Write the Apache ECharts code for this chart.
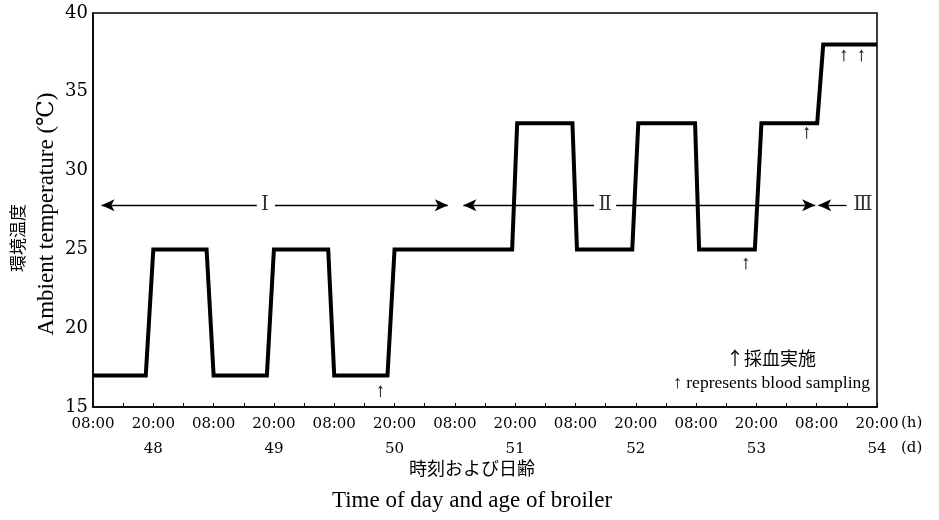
<!DOCTYPE html>
<html>
<head>
<meta charset="utf-8">
<script src="https://cdn.jsdelivr.net/npm/echarts@6/dist/echarts.min.js"></script>
<style>html,body{margin:0;padding:0;background:#fff;}#c{width:939px;height:520px;}</style>
</head>
<body>
<div id="c"></div>
<script>
// ---- data ----
// hours since 08:00 at the left edge of the axis
const timesH = [0, 10.5, 12, 22.6, 24, 34.6, 36, 46.8, 48, 58.6, 60, 83.4, 84.4, 95.4, 96.3, 107.3, 108.5, 119.8, 120.6, 131.7, 133, 144.1, 145.3, 156];
const tempsC = [17, 17, 25, 25, 17, 17, 25, 25, 17, 17, 25, 25, 33, 33, 25, 25, 33, 33, 25, 25, 33, 33, 38, 38];
const timeLabels = ['08:00','20:00','08:00','20:00','08:00','20:00','08:00','20:00','08:00','20:00','08:00','20:00','08:00','20:00'];
const dayLabels = ['', '48', '', '49', '', '50', '', '51', '', '52', '', '53', '', '54'];
const yTicks = [15, 20, 25, 30, 35, 40];
// period annotation
const periodNames = ['Ⅰ', 'Ⅱ', 'Ⅲ'];
const periodLabelT = [34.2, 101.9, 153.2];
const periodLevel = 27.8;
const arrowFrom = [32.6, 36.2, 99.7, 104.1, 149.95];
const arrowTo = [1.7, 70.6, 73.7, 143.7, 144.3];
// blood sampling marks
const sampleT = [57.2, 129.9, 142.0, 149.4, 152.9];
const sampleY = [16.0, 24.1, 32.4, 37.3, 37.3];

const serif = '"Liberation Serif", "DejaVu Serif", serif';
const dserif = '"DejaVu Serif", "Liberation Serif", serif';
const cjk = '"Noto Sans CJK JP", sans-serif';
const chart = echarts.init(document.getElementById('c'));
const arrowPath = 'path://M5,0 L9,7 L5.9,6 L5.9,24 L4.1,24 L4.1,6 L1,7 Z';

chart.setOption({
  animation: false,
  backgroundColor: '#fff',
  grid: { left: 93, right: 62, top: 13, bottom: 113, show: true, borderColor: '#000', borderWidth: 1.5, backgroundColor: 'transparent' },
  xAxis: {
    type: 'value', min: 0, max: 156, interval: 12,
    axisLine: { show: true, lineStyle: { color: '#000', width: 1.5 } },
    axisTick: { show: true, inside: true, length: 4, lineStyle: { color: '#000' } },
    minorTick: { show: true, splitNumber: 2, length: 4, lineStyle: { color: '#000' } },
    splitLine: { show: false },
    axisLabel: {
      showMinLabel: true, showMaxLabel: true, margin: 5, color: '#000',
      fontFamily: dserif, fontSize: 15,
      formatter: function (v) {
        const i = Math.round(v / 12);
        return '{t|' + timeLabels[i] + '}\n{d|' + (dayLabels[i] || ' ') + '}';
      },
      rich: {
        t: { fontFamily: dserif, fontSize: 15, lineHeight: 25, color: '#000' },
        d: { fontFamily: dserif, fontSize: 15, lineHeight: 25, color: '#000' }
      }
    }
  },
  yAxis: {
    type: 'value', min: yTicks[0], max: yTicks[yTicks.length - 1], interval: 5,
    axisLine: { show: true, lineStyle: { color: '#000', width: 1.5 } },
    axisTick: { show: false },
    splitLine: { show: false },
    axisLabel: { color: '#000', fontFamily: dserif, fontSize: 18, margin: 5 }
  },
  series: [
    {
      type: 'line', data: timesH.map((t, i) => [t, tempsC[i]]),
      symbol: 'none', lineStyle: { color: '#000', width: 4, join: 'miter' }, z: 5,
      markLine: {
        silent: true, symbol: ['none', 'arrow'], symbolSize: [9, 13],
        lineStyle: { color: '#000', width: 1.3, type: 'solid' },
        label: { show: false },
        data: arrowFrom.map((f, i) => [{ coord: [f, periodLevel] }, { coord: [arrowTo[i], periodLevel] }])
      }
    },
    {
      type: 'scatter', data: periodLabelT.map((t, i) => ({ value: [t, periodLevel], name: periodNames[i] })),
      symbolSize: 0, silent: true,
      label: { show: true, position: 'inside', formatter: p => p.name, color: '#000', fontFamily: dserif + ', ' + cjk, fontSize: 20 }
    },
    {
      type: 'scatter', data: sampleT.map((t, i) => [t, sampleY[i]]),
      symbol: arrowPath, symbolSize: [5, 12], itemStyle: { color: '#000' }, silent: true
    }
  ],
  graphic: [
    { type: 'text', x: 18, y: 238, rotation: Math.PI / 2, style: { text: '環境温度', font: '17px ' + cjk, fill: '#000', align: 'center', verticalAlign: 'middle' } },
    { type: 'text', x: 47, y: 214, rotation: Math.PI / 2, style: { text: 'Ambient temperature (℃)', font: '23px ' + serif, fill: '#000', align: 'center', verticalAlign: 'middle' } },
    { type: 'text', x: 472, y: 468, style: { text: '時刻および日齢', font: '18px ' + cjk, fill: '#000', align: 'center', verticalAlign: 'middle' } },
    { type: 'text', x: 472, y: 501, style: { text: 'Time of day and age of broiler', font: '23px ' + serif, fill: '#000', align: 'center', verticalAlign: 'middle' } },
    { type: 'text', x: 901, y: 423, style: { text: '(h)', font: '15px ' + dserif, fill: '#000', align: 'left', verticalAlign: 'middle' } },
    { type: 'text', x: 901, y: 448, style: { text: '(d)', font: '15px ' + dserif, fill: '#000', align: 'left', verticalAlign: 'middle' } },
    { type: 'text', x: 816, y: 358, style: { text: '↑採血実施', font: '18px ' + cjk, fill: '#000', align: 'right', verticalAlign: 'middle' } },
    { type: 'text', x: 870, y: 383, style: { text: '↑ represents blood sampling', font: '17.5px ' + serif, fill: '#000', align: 'right', verticalAlign: 'middle' } }
  ]
});
</script>
</body>
</html>
